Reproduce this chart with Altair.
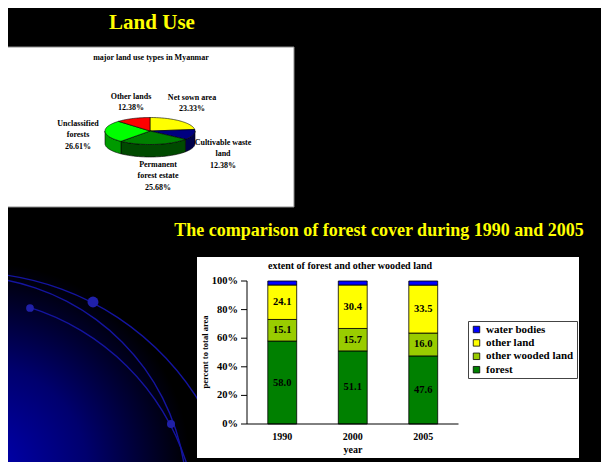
import altair as alt
import pandas as pd

# ---------------- data ----------------
pie_labels = ["Net sown area", "Cultivable waste land", "Permanent forest estate",
              "Unclassified forests", "Other lands"]
pie_label_lines = ["Net sown area", "Cultivable waste\nland", "Permanent\nforest estate",
                   "Unclassified\nforests", "Other lands"]
pie_values = [23.33, 12.38, 25.68, 26.61, 12.38]

years = ["1990", "2000", "2005"]
forest = [58.0, 51.1, 47.6]
other_wooded = [15.1, 15.7, 16.0]
other_land = [24.1, 30.4, 33.5]
water = [2.8, 2.8, 2.9]
series = ["forest", "other wooded land", "other land", "water bodies"]
legend_order = ["water bodies", "other land", "other wooded land", "forest"]
y_ticks = [0, 20, 40, 60, 80, 100]

# ---------------- styles / layout ----------------
FONT = "Liberation Serif"
pie_colors = ["#FFFF00", "#000080", "#008000", "#00FF00", "#FF0000"]
pie_side_colors = ["#9a9a00", "#00004a", "#004a00", "#009a00", "#9a0000"]
legend_colors = ["#0000FF", "#FFFF00", "#99CC00", "#008000"]

W, H = 593, 454
OFF = 8  # page margin


def px(v):
    return v - OFF


one = pd.DataFrame({"_": [0]})


def box(x1, y1, x2, y2, **kw):
    return alt.Chart(one).mark_rect(**kw).encode(
        x=alt.value(px(x1)), x2=alt.value(px(x2)), y=alt.value(px(y1)), y2=alt.value(px(y2)))


def txt(s, x, y, size, color="black", angle=0, align="center", baseline="middle"):
    return alt.Chart(one).mark_text(
        text=s, font=FONT, fontWeight="bold", fontSize=size, color=color,
        angle=angle, align=align, baseline=baseline).encode(x=alt.value(px(x)), y=alt.value(px(y)))


layers = []
# slide background
layers.append(box(0, 0, 620, 470, color="black"))
# blue decorative gradient (lower left)
grad = alt.RadialGradient(
    gradient="radial", x1=0, y1=1, r1=0, x2=0, y2=1, r2=1,
    stops=[alt.GradientStop(offset=0, color="#0000b4"),
           alt.GradientStop(offset=0.45, color="#00006e"),
           alt.GradientStop(offset=0.9, color="#000000")])
layers.append(box(0, 240, 197, 470, fill=grad))
# decorative arcs
for (cx, cy, r, t1, t2) in [(-32.3, 544.4, 272, 0.12, 1.05),
                            (-35.9, 498.9, 222.7, 0.17, 1.41),
                            (-42.4, 536.9, 240.5, 0.30, 1.26)]:
    layers.append(alt.Chart(one).mark_arc(
        fill="#1414a0", theta=t1, theta2=t2, radius=r + 0.7, radius2=r - 0.7).encode(
        x=alt.value(px(cx)), y=alt.value(px(cy))))
for (dx, dy, s) in [(93, 302, 120), (30, 308, 60), (171, 424, 64)]:
    layers.append(alt.Chart(one).mark_circle(color="#2020a8", opacity=1, size=s).encode(
        x=alt.value(px(dx)), y=alt.value(px(dy))))

# white panels
layers.append(box(7, 47, 294, 207, fill="white", stroke="#8c8c8c", strokeWidth=1))
layers.append(box(197, 257, 579, 458, fill="white"))

# titles
layers.append(txt("Land Use", 152, 23, 21, color="#FFFF00"))
layers.append(txt("The comparison of forest cover during 1990 and 2005", 379, 231, 18, color="#FFFF00"))

# ---------------- pie (3-D look) ----------------
pie_df = pd.DataFrame({"label": pie_labels, "value": pie_values, "i": list(range(len(pie_labels)))})
CX, CY, RX, RY, DEPTH = px(150), px(131), 45, 13.5, 12.5
D = DEPTH / RY
N = 40
ux = alt.Scale(domain=[-1, 1], range=[CX - RX, CX + RX], zero=False, nice=False)
uy = alt.Scale(domain=[-1, 1], range=[CY + RY, CY - RY], zero=False, nice=False)

pie_base = alt.Chart(pie_df).transform_joinaggregate(total="sum(value)").transform_window(
    cum="sum(value)", sort=[alt.SortField("i")], frame=[None, 0]).transform_calculate(
    a0="2*PI*(datum.cum - datum.value)/datum.total",
    a1="2*PI*datum.cum/datum.total")

side = pie_base.transform_calculate(
    s="max(datum.a0, PI/2)", e="min(datum.a1, 3*PI/2)").transform_filter(
    "datum.s < datum.e").transform_calculate(
    step=f"sequence(0, {2 * N + 3})").transform_flatten(["step"]).transform_calculate(
    k=f"datum.step <= {N} ? datum.step : (datum.step <= {2 * N + 1} ? {2 * N + 1} - datum.step : 0)",
    bot=f"datum.step > {N} && datum.step <= {2 * N + 1}",
    ang=f"datum.s + (datum.e - datum.s) * datum.k / {N}",
    u="sin(datum.ang)",
    v=f"cos(datum.ang) - (datum.bot ? {D} : 0)").mark_line(
    stroke="black", strokeWidth=0.6, strokeJoin="round").encode(
    x=alt.X("u:Q", scale=ux, axis=None),
    y=alt.Y("v:Q", scale=uy, axis=None),
    fill=alt.Fill("label:N", scale=alt.Scale(domain=pie_labels, range=pie_side_colors), legend=None),
    detail="label:N",
    order="step:Q")

top = pie_base.transform_calculate(
    step=f"sequence(0, {N + 3})").transform_flatten(["step"]).transform_calculate(
    ang=f"datum.a0 + (datum.a1 - datum.a0) * (datum.step - 1) / {N}",
    edge=f"datum.step >= 1 && datum.step <= {N + 1}",
    u="datum.edge ? sin(datum.ang) : 0",
    v="datum.edge ? cos(datum.ang) : 0").mark_line(
    stroke="black", strokeWidth=0.6, strokeJoin="round").encode(
    x=alt.X("u:Q", scale=ux, axis=None),
    y=alt.Y("v:Q", scale=uy, axis=None),
    fill=alt.Fill("label:N", scale=alt.Scale(domain=pie_labels, range=pie_colors), legend=None),
    detail="label:N",
    order="step:Q")

layers += [side, top]

layers.append(txt("major land use types in Myanmar", 151, 58, 8))
# pie labels (text from the data, placement from layout)
pie_label_pos = {
    "Other lands": (131, 93),
    "Net sown area": (192, 94),
    "Unclassified forests": (78, 120),
    "Cultivable waste land": (223, 139),
    "Permanent forest estate": (158, 161),
}
for lab, lines, val in zip(pie_labels, pie_label_lines, pie_values):
    x, y = pie_label_pos[lab]
    layers.append(alt.Chart(one).mark_text(
        text=f"{lines}\n{val:.2f}%", lineBreak="\n", lineHeight=11.3, font=FONT, fontWeight="bold",
        fontSize=8, color="black", align="center", baseline="top").encode(
        x=alt.value(px(x)), y=alt.value(px(y))))

# ---------------- stacked bar chart ----------------
rows = []
for j, yr in enumerate(years):
    for k, (s, vals) in enumerate(zip(series, [forest, other_wooded, other_land, water])):
        rows.append({"year": yr, "series": s, "k": k, "value": vals[j]})
bar_df = pd.DataFrame(rows)

AX_L, AX_R, AX_B, AX_T = px(247), px(458.5), px(424), px(281)
xscale = alt.Scale(domain=years, range=[AX_L, AX_R], paddingInner=0.59, paddingOuter=0.295)
yscale = alt.Scale(domain=[0, 100], range=[AX_B, AX_T], zero=False, nice=False)

stacked = alt.Chart(bar_df).transform_stack(
    stack="value", groupby=["year"], sort=[alt.SortField("k")], as_=["y0", "y1"])

bars = stacked.mark_bar(stroke="black", strokeWidth=0.8).encode(
    x=alt.X("year:N", scale=xscale, axis=None),
    y=alt.Y("y0:Q", scale=yscale, axis=None),
    y2="y1:Q",
    color=alt.Color("series:N", scale=alt.Scale(domain=legend_order, range=legend_colors),
                    legend=alt.Legend(orient="none", legendX=px(468), legendY=px(321), title=None,
                                      symbolType="square", symbolSize=42, symbolStrokeColor="black",
                                      symbolStrokeWidth=0.8, labelFont=FONT, labelFontWeight="bold",
                                      labelFontSize=11, labelColor="black", strokeColor="#444444",
                                      fillColor="white", padding=3, rowPadding=1.4, labelOffset=4)))

bar_text = stacked.transform_filter("datum.series != 'water bodies'").transform_calculate(
    mid="(datum.y0 + datum.y1) / 2", lab="format(datum.value, '.1f')").mark_text(
    font=FONT, fontWeight="bold", fontSize=10.5, color="black").encode(
    x=alt.X("year:N", scale=xscale, axis=None),
    y=alt.Y("mid:Q", scale=yscale, axis=None),
    text="lab:N")

# axes drawn from the tick list through the same scales
tick_df = pd.DataFrame({"t": y_ticks, "lab": [f"{t}%" for t in y_ticks]})
yaxis_line = alt.Chart(one).mark_rule(color="black", strokeWidth=1).encode(
    x=alt.value(AX_L), y=alt.value(AX_T), y2=alt.value(AX_B))
xaxis_line = alt.Chart(one).mark_rule(color="black", strokeWidth=1).encode(
    y=alt.value(AX_B), x=alt.value(AX_L), x2=alt.value(AX_R))
yticks = alt.Chart(tick_df).mark_rule(color="black", strokeWidth=1).encode(
    y=alt.Y("t:Q", scale=yscale, axis=None), x=alt.value(AX_L - 6), x2=alt.value(AX_L))
ylabels = alt.Chart(tick_df).mark_text(
    font=FONT, fontWeight="bold", fontSize=10.5, color="black", align="right").encode(
    y=alt.Y("t:Q", scale=yscale, axis=None), x=alt.value(AX_L - 9), text="lab:N")
year_df = pd.DataFrame({"year": years})
xlabels = alt.Chart(year_df).mark_text(
    font=FONT, fontWeight="bold", fontSize=10, color="black").encode(
    x=alt.X("year:N", scale=xscale, axis=None), y=alt.value(px(437)), text="year:N")

layers += [bars, bar_text, yaxis_line, xaxis_line, yticks, ylabels, xlabels]
layers.append(txt("extent of forest and other wooded land", 350, 266, 10))
layers.append(txt("year", 353, 449.5, 10))
layers.append(txt("percent to total area", 205, 352, 8.5, angle=270))

chart = alt.layer(*layers).resolve_scale(
    x="independent", y="independent", color="independent", fill="independent"
).properties(
    width=W, height=H, padding=0, autosize=alt.AutoSizeParams(type="none"), background="black"
).configure_view(stroke=None)

chart.save("out.html", embed_options={"renderer": "svg", "actions": False})
